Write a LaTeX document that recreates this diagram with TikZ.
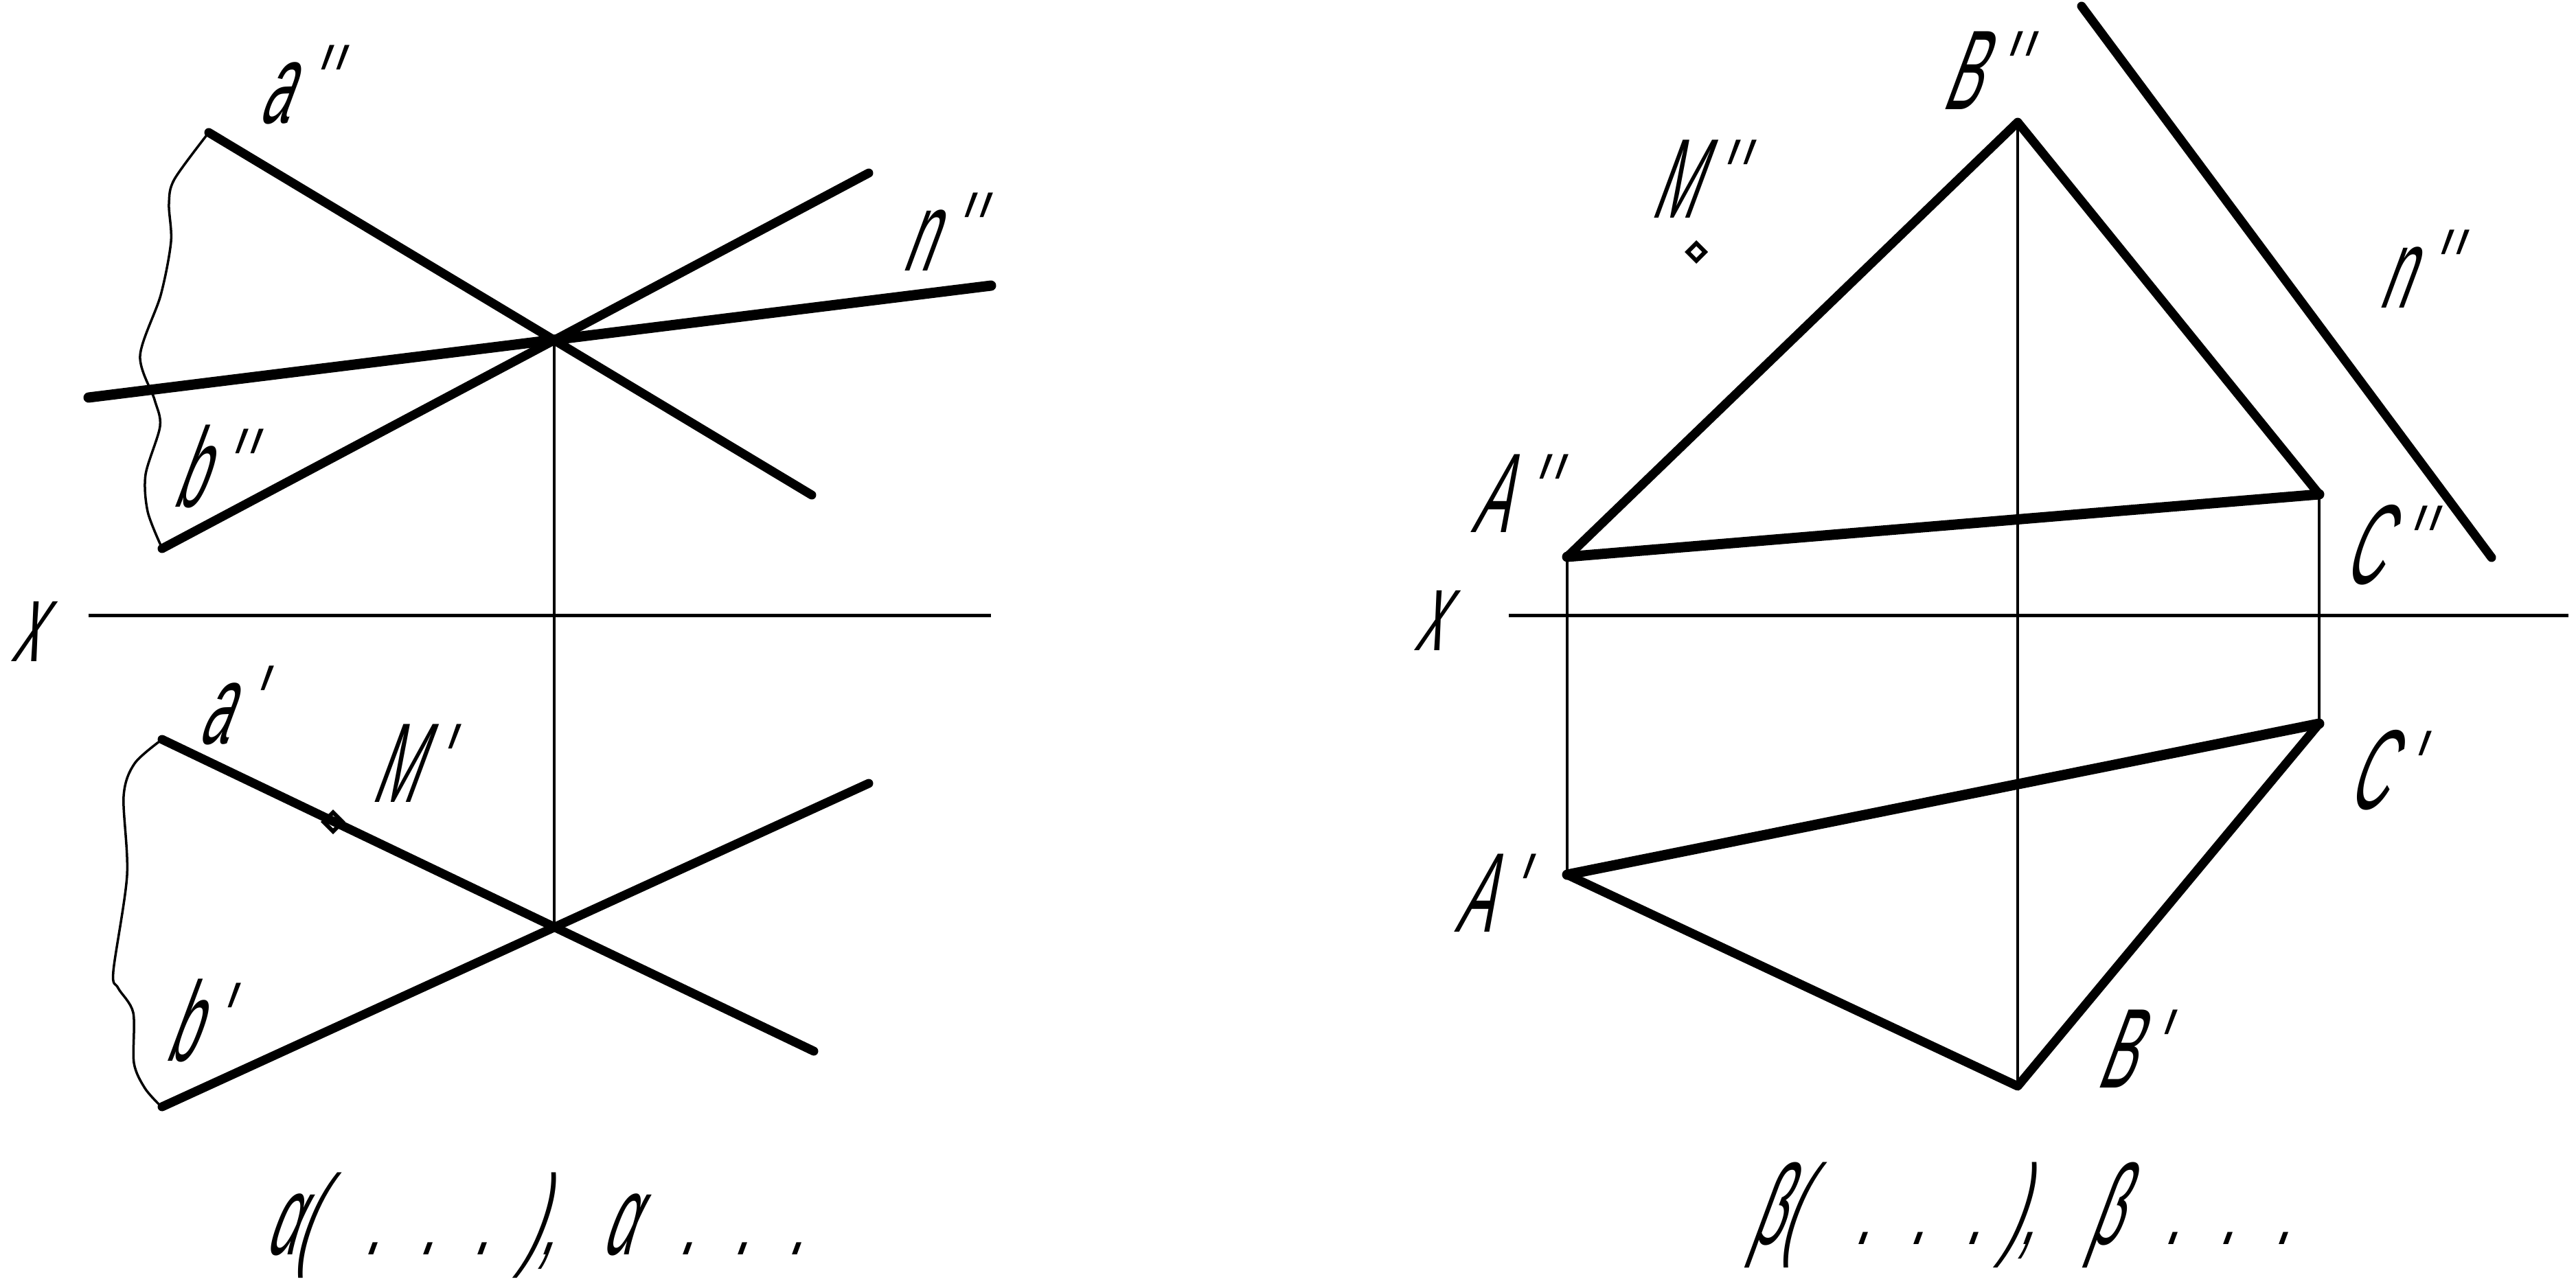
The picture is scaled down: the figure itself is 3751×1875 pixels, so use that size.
\documentclass[tikz,border=0pt]{standalone}
\usepackage{fontspec}
\newfontfamily\gost[FakeSlant=0.37,FakeStretch=0.47]{Liberation Sans}
\newcommand{\dprime}{\kern16pt'\kern8pt'}
\newcommand{\sprime}{\kern16pt'}
\tikzset{
  thickln/.style={line width=13pt,line cap=round,line join=round},
  heavyln/.style={line width=15pt,line cap=round,line join=round},
  thinln/.style={line width=4.5pt},
  wave/.style={line width=3.5pt},
  axisln/.style={line width=5pt},
  pointmark/.style={draw,line width=6pt,diamond,aspect=1,minimum size=30pt,inner sep=0pt,fill=white},
  lbl/.style={anchor=base west,inner sep=0pt,outer sep=0pt,font=\gost\fontsize{165}{165}\selectfont},
}
\usetikzlibrary{shapes.geometric}
\begin{document}
\begin{tikzpicture}[x=1pt,y=-1pt]
\useasboundingbox (0,0) rectangle (3751,1875);
% left, upper
\coordinate (a2s) at (304,193);
\coordinate (a2e) at (1182,721);
\coordinate (b2s) at (236,799);
\coordinate (b2e) at (1265,252);
\coordinate (n2s) at (129,579);
\coordinate (n2e) at (1443,416);
\coordinate (k2) at (807,494);
\coordinate (k1) at (807,1351);
\coordinate (a1s) at (236,1077);
\coordinate (a1e) at (1185,1531);
\coordinate (b1s) at (236,1612);
\coordinate (b1e) at (1265,1141);
\coordinate (xls) at (129,896);
\coordinate (xle) at (1443,896);
\coordinate (xrs) at (2197,896);
\coordinate (xre) at (3740,896);
\draw[thinln] (k2) -- (k1);
\draw[axisln] (xls) -- (xle);
\draw[wave] plot[smooth] coordinates {(304,193) (254,261) (246,297) (249,352) (234,430) (204,518) (225,582) (233,621) (212,691) (215,745) (234,794)};
\draw[wave] plot[smooth] coordinates {(236,1077) (196,1112) (180,1160) (185,1275) (165,1415) (172,1439) (194,1475) (195,1548) (211,1585) (233,1610)};
\node[pointmark] (mp) at (485,1197) {};
\draw[thickln] (a2s) -- (a2e);
\draw[thickln] (b2s) -- (b2e);
\draw[heavyln] (n2s) -- (n2e);
\draw[thickln] (a1s) -- (a1e);
\draw[thickln] (b1s) -- (b1e);
% right
\coordinate (A2) at (2282,811);
\coordinate (B2) at (2938,178);
\coordinate (C2) at (3377,720);
\coordinate (A1) at (2282,1274);
\coordinate (B1) at (2938,1582);
\coordinate (C1) at (3377,1054);
\coordinate (nrs) at (3031,9);
\coordinate (nre) at (3628,812);
\draw[thinln] (A2) -- (A1);
\draw[thinln] (B2) -- (B1);
\draw[thinln] (C2) -- (C1);
\draw[axisln] (xrs) -- (xre);
\draw[thickln] (A2) -- (B2) -- (C2);
\draw[heavyln] (A2) -- (C2);
\draw[thickln] (nrs) -- (nre);
\draw[heavyln] (A1) -- (C1);
\draw[thickln] (A1) -- (B1) -- (C1);
\node[pointmark,minimum size=28pt,fill=none] (mpp) at (2470,367) {};
% labels
\node[lbl] (la2) at (375,179) {a\dprime};
\node[lbl] (ln2) at (1312,394) {n\dprime};
\node[lbl] (lb2) at (250,738) {b\dprime};
\node[lbl] (lxl) at (15,963) {x};
\node[lbl] (lxr) at (2058,947) {x};
\node[lbl] (la1) at (287,1083) {a\sprime};
\node[lbl] (lm1) at (539,1168) {M\sprime};
\node[lbl] (lb1) at (239,1545) {b\sprime};
\node[lbl] (lB2) at (2826,159) {B\dprime};
\node[lbl] (lM2) at (2402,317) {M\dprime};
\node[lbl] (lnr) at (3462,448) {n\dprime};
\node[lbl] (lA2) at (2141,775) {A\dprime};
\node[lbl] (lC2) at (3410,850) {C\dprime};
\node[lbl] (lC1) at (3416,1178) {C\sprime};
\node[lbl] (lA1) at (2117,1357) {A\sprime};
\node[lbl] (lB1) at (3051,1584) {B\sprime};
\node[lbl] (capl) at (384,1827) {α(\kern75pt.\kern58pt.\kern58pt.\kern48pt),\kern69pt α\kern68pt.\kern58pt.\kern58pt.};
\node[lbl] (capr) at (2547,1812) {β(\kern82pt.\kern59pt.\kern59pt.\kern32pt),\kern78pt β\kern66pt.\kern59pt.\kern59pt.};
\end{tikzpicture}
\end{document}
